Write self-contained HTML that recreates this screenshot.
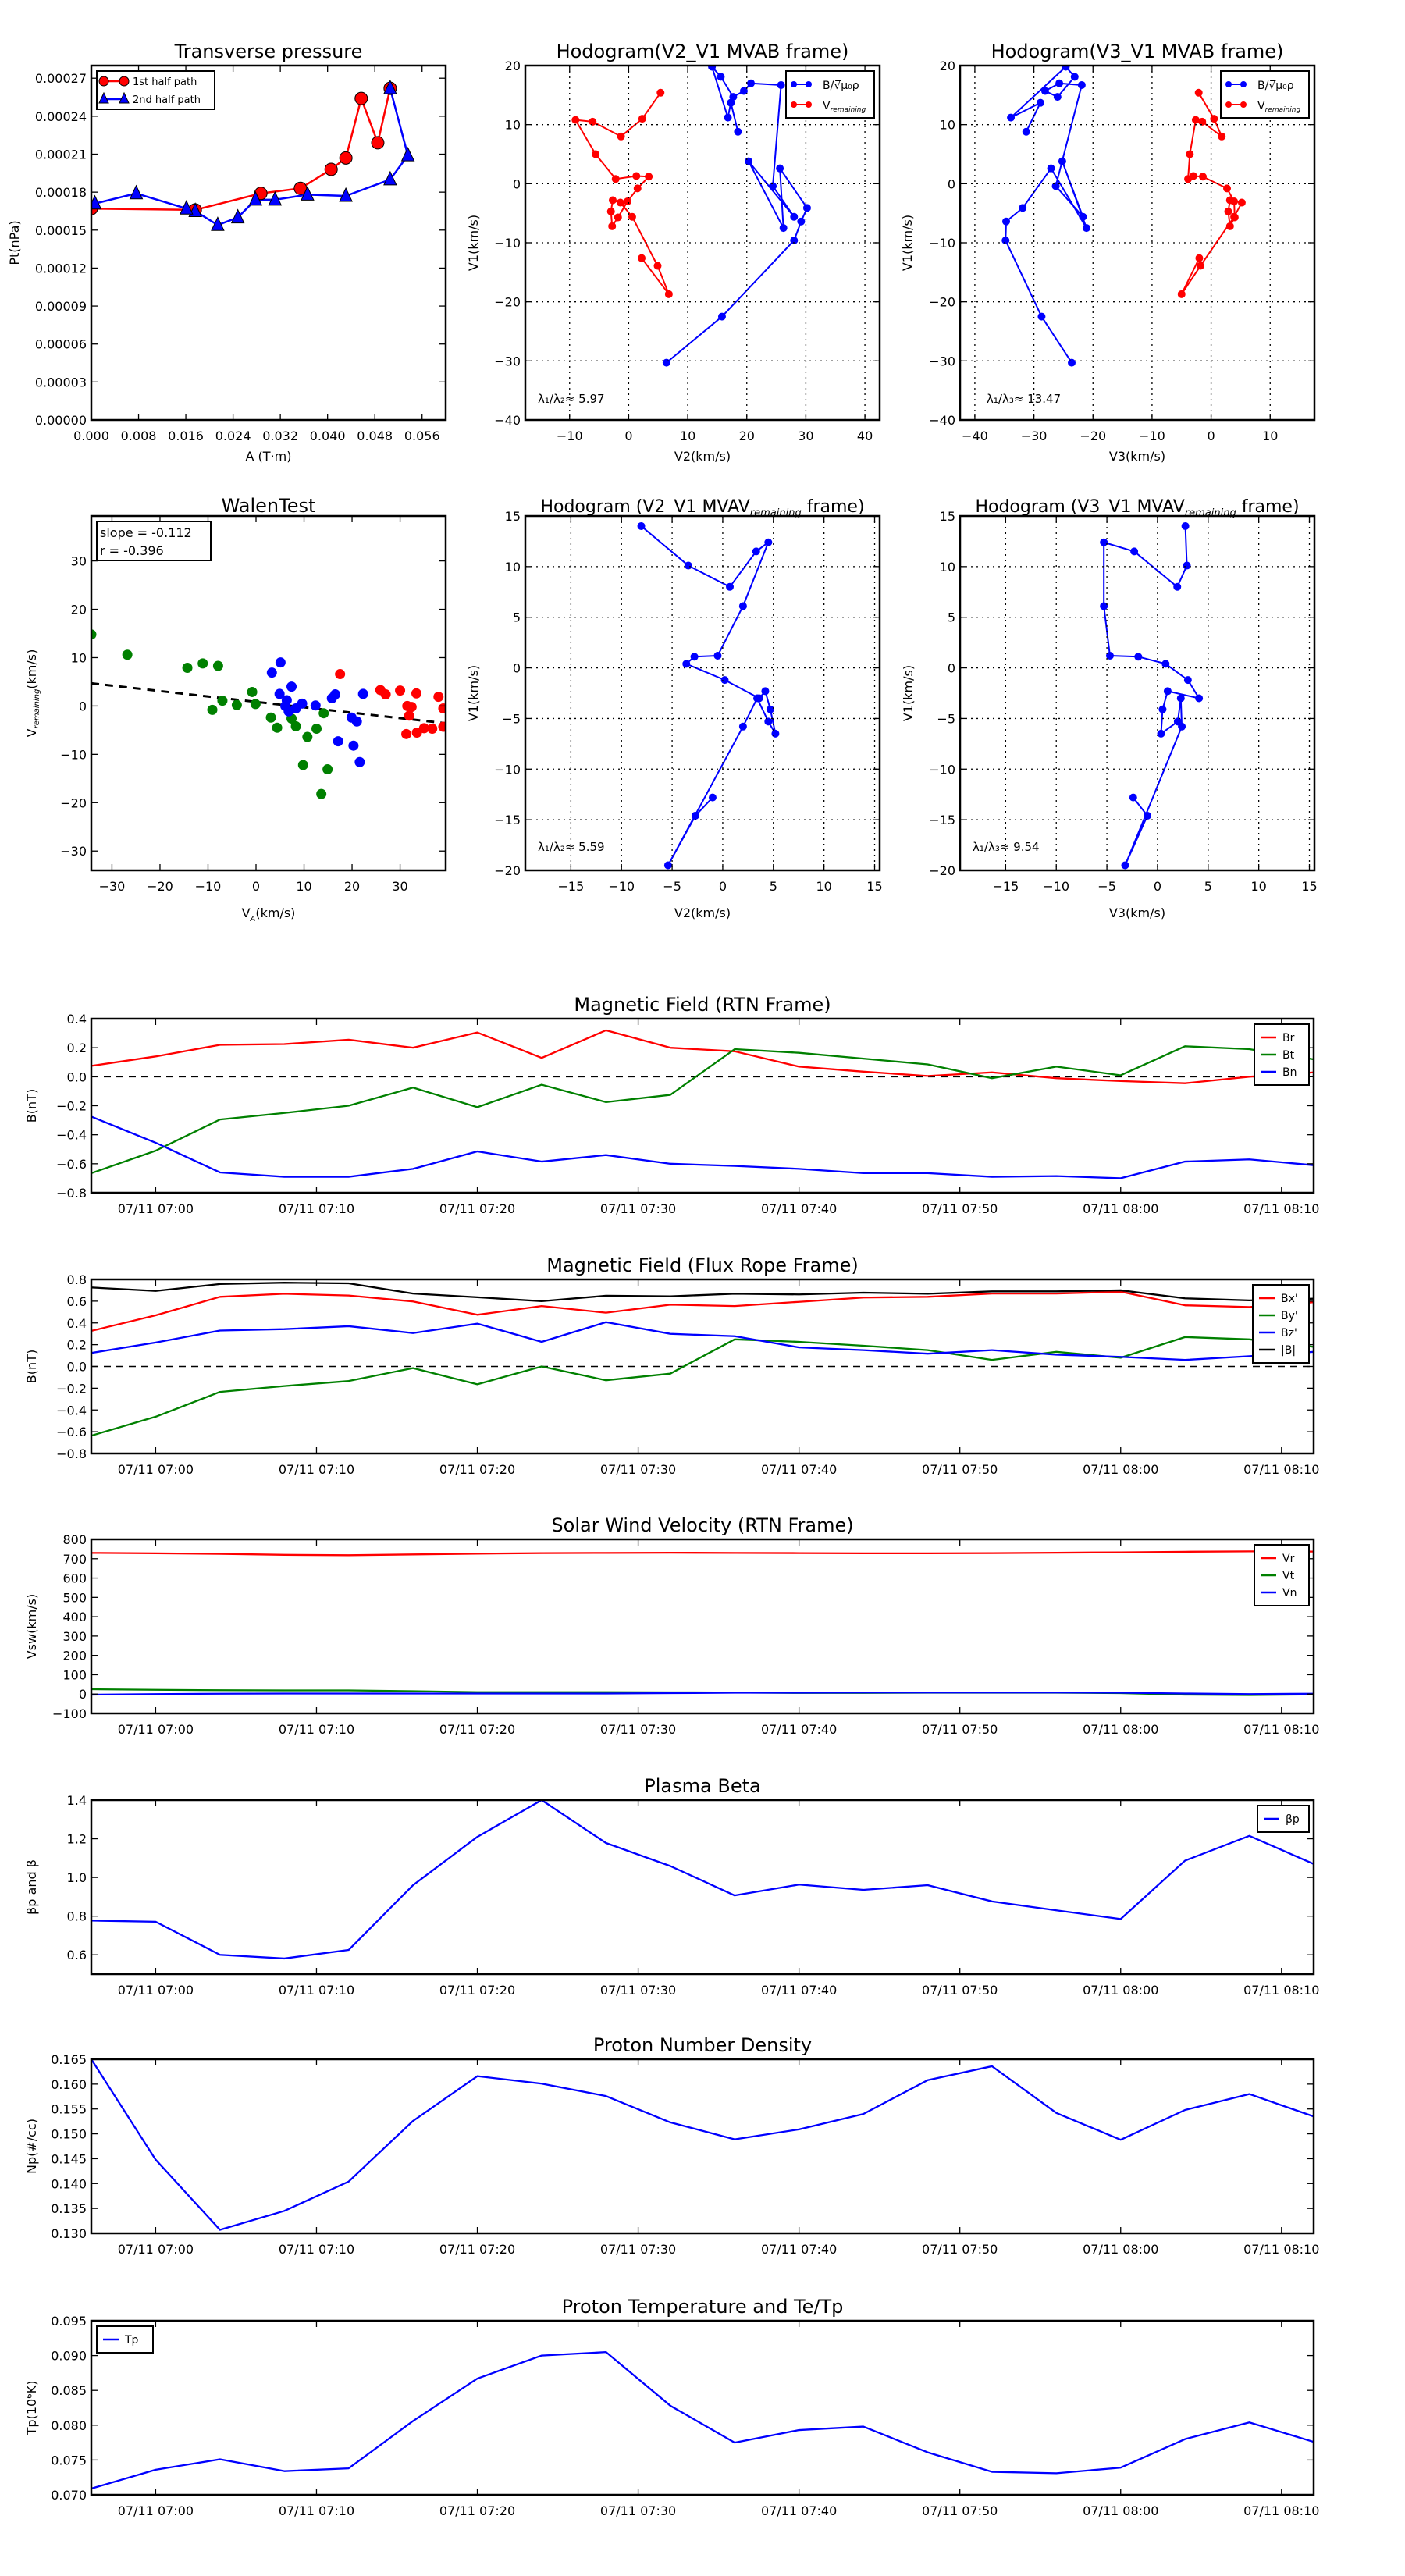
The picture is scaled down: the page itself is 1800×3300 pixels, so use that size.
<!DOCTYPE html>
<html><head><meta charset="utf-8"><title>Flux rope analysis</title>
<style>
html,body{margin:0;padding:0;background:#fff;}
svg{display:block;font-family:"DejaVu Sans","Liberation Sans",sans-serif;}
</style></head>
<body>
<svg id="fig" xmlns="http://www.w3.org/2000/svg" width="1800" height="3300" viewBox="0 0 1800 3300"></svg>
<script>
// ---------- data ----------
const timeLabels = ["06:56","07:00","07:04","07:08","07:12","07:16","07:20","07:24","07:28","07:32","07:36","07:40","07:44","07:48","07:52","07:56","08:00","08:04","08:08","08:12"];
const timeTicks = ["07:00","07:10","07:20","07:30","07:40","07:50","08:00","08:10"];
const br = [0.075,0.14,0.22,0.225,0.255,0.2,0.305,0.13,0.32,0.2,0.175,0.07,0.035,0.005,0.03,-0.01,-0.03,-0.045,0.0,0.03];
const bt = [-0.665,-0.51,-0.295,-0.25,-0.2,-0.075,-0.21,-0.055,-0.175,-0.125,0.19,0.165,0.125,0.085,-0.01,0.07,0.01,0.21,0.19,0.12];
const bn = [-0.275,-0.455,-0.66,-0.69,-0.69,-0.635,-0.515,-0.585,-0.54,-0.6,-0.615,-0.635,-0.665,-0.665,-0.69,-0.685,-0.7,-0.585,-0.57,-0.61];
const bxp = [0.327,0.47,0.64,0.668,0.652,0.597,0.475,0.555,0.494,0.568,0.555,0.594,0.633,0.64,0.67,0.67,0.687,0.562,0.546,0.59];
const byp = [-0.636,-0.462,-0.234,-0.18,-0.134,-0.015,-0.164,0.0,-0.127,-0.066,0.249,0.226,0.19,0.15,0.06,0.134,0.08,0.27,0.249,0.18];
const bzp = [0.124,0.22,0.33,0.343,0.37,0.307,0.394,0.226,0.407,0.3,0.278,0.175,0.15,0.117,0.15,0.108,0.088,0.06,0.094,0.134];
const btot = [0.726,0.694,0.758,0.77,0.764,0.67,0.636,0.6,0.65,0.645,0.668,0.662,0.678,0.668,0.69,0.69,0.7,0.626,0.607,0.623];
const vr = [730,728,725,720,718,722,726,729,730,731,730,729,728,728,729,731,733,736,738,737];
const vt = [25,22,20,19,19,15,10,10,10,9,8,6,6,7,7,7,5,-3,-5,-2];
const vn = [-3,0,2,3,3,3,3,3,3,5,7,7,8,8,8,8,7,3,0,2];
const betaP = [0.777,0.771,0.6,0.581,0.625,0.96,1.21,1.4,1.178,1.059,0.907,0.963,0.936,0.96,0.876,0.83,0.785,1.087,1.215,1.07];
const np = [0.165,0.1448,0.1307,0.1345,0.1404,0.1526,0.1616,0.1601,0.1576,0.1523,0.1489,0.1509,0.154,0.1608,0.1636,0.1542,0.1488,0.1548,0.158,0.1535];
const tp = [0.0709,0.0736,0.0751,0.0734,0.0738,0.0806,0.0867,0.09,0.0905,0.0828,0.0775,0.0793,0.0798,0.0761,0.0733,0.0731,0.0739,0.078,0.0804,0.0776];

const aRed = [0,0.0176,0.0287,0.0354,0.0406,0.0431,0.0457,0.0485,0.0506];
const ptRed = [0.000167,0.000166,0.000179,0.000183,0.000198,0.000207,0.000254,0.000219,0.000262];
const aBlue = [0.0506,0.0536,0.0506,0.0431,0.0366,0.0311,0.0278,0.0248,0.0214,0.0176,0.0161,0.0076,0.0006];
const ptBlue = [0.000262,0.000209,0.00019,0.000177,0.000178,0.000174,0.000174,0.00016,0.000154,0.000165,0.000167,0.000179,0.000171];

const hB1 = [8.8,13.7,11.2,19.8,18.1,14.7,15.7,17.0,16.7,-0.4,-5.6,3.8,-7.5,2.6,-4.1,-6.4,-9.6,-22.5,-30.3];
const hB2 = [18.5,17.3,16.8,14.1,15.6,17.7,19.5,20.7,25.8,24.4,28.0,20.3,26.2,25.6,30.2,29.2,28.0,15.8,6.4];
const hB3 = [-31.3,-28.9,-33.9,-24.6,-23.1,-26,-28.1,-25.7,-21.9,-26.3,-21.7,-25.2,-21.1,-27.1,-31.9,-34.7,-34.8,-28.7,-23.6];
const hV1 = [15.4,11.0,8.0,10.5,10.8,5.0,0.8,1.3,1.2,-0.8,-3.0,-5.7,-7.2,-4.7,-2.8,-3.2,-5.6,-13.9,-18.7,-12.6];
const hV2 = [5.4,2.3,-1.3,-6.1,-9.0,-5.6,-2.2,1.3,3.4,1.5,-0.2,-1.8,-2.8,-3.0,-2.7,-1.4,0.6,4.9,6.8,2.2];
const hV3 = [-2.1,0.5,1.8,-1.5,-2.6,-3.6,-3.9,-3.0,-1.4,2.7,3.9,4.0,3.2,2.9,3.2,5.2,3.9,-1.8,-5.0,-2.0];

const rV1 = [14.0,10.1,8.0,11.5,12.4,6.1,1.2,1.1,0.4,-1.2,-3.0,-2.3,-4.1,-6.5,-5.3,-3.0,-5.8,-19.5,-14.6,-12.8];
const rV2 = [-8.05,-3.4,0.7,3.3,4.5,2.0,-0.5,-2.8,-3.6,0.2,3.6,4.2,4.7,5.2,4.5,3.4,2.0,-5.4,-2.7,-1.0];
const rV3 = [2.75,2.9,1.95,-2.3,-5.3,-5.3,-4.7,-1.9,0.8,3.0,4.1,1.0,0.5,0.35,2.0,2.3,2.4,-3.2,-1.0,-2.4];

const walGx = [-34.3,-26.8,-14.3,-11.1,-7.9,-7.0,-9.1,-4.0,-0.8,-0.1,3.1,4.4,7.4,8.3,10.7,12.6,14.1,9.8,14.9,13.6];
const walGy = [14.8,10.6,7.9,8.8,8.3,1.1,-0.8,0.2,2.9,0.4,-2.4,-4.5,-2.6,-4.2,-6.4,-4.7,-1.5,-12.2,-13.1,-18.2];
const walBx = [3.3,5.1,4.9,6.4,7.4,6.1,6.8,8.3,9.6,12.4,15.8,16.5,22.3,19.9,21.0,17.1,20.3,21.6];
const walBy = [6.9,9.0,2.5,1.2,4.0,0,-1.1,-0.5,0.5,0.1,1.6,2.4,2.5,-2.4,-3.2,-7.3,-8.2,-11.6];
const walRx = [17.5,25.9,27,30,33.4,31.5,32.4,31.9,31.3,33.5,35,36.7,38,39,39];
const walRy = [6.6,3.3,2.4,3.2,2.6,0,-0.2,-2.0,-5.8,-5.5,-4.6,-4.7,1.9,-0.5,-4.3];
const walenSlope = -0.112, walenIntercept = 0.85;

// ---------- helpers ----------
const NS = "http://www.w3.org/2000/svg";
const svg = document.getElementById('fig');
function mk(tag, attrs, name, parent) {
  const el = document.createElementNS(NS, tag);
  for (const k in attrs) el.setAttribute(k, attrs[k]);
  
  
  (parent || svg).appendChild(el);
  return el;
}
function txt(x, y, s, size, anchor, name, parent, extra) {
  const a = {x: x, y: y, 'font-size': size, 'text-anchor': anchor || 'middle', fill: '#000'};
  if (extra) for (const k in extra) a[k] = extra[k];
  const t = mk('text', a, name, parent);
  t.textContent = s;
  return t;
}
function minus(s) { return s.replace('-', '\u2212'); }
function tmin(s) { const p = s.split(':'); return (+p[0]) * 60 + (+p[1]) - (6 * 60 + 56); }

function axes(name, x0, y0, w, h, xd, yd) {
  const g = mk('g', {}, name);
  const sx = v => x0 + (v - xd[0]) / (xd[1] - xd[0]) * w;
  const sy = v => y0 + h - (v - yd[0]) / (yd[1] - yd[0]) * h;
  const clipId = 'c' + name;
  const cp = mk('clipPath', {id: clipId}, name + '-clip', g);
  mk('rect', {x: x0, y: y0, width: w, height: h}, name + '-clip-rect', cp);
  const plot = mk('g', {'clip-path': 'url(#' + clipId + ')'}, name + '-plot', g);
  return {g, plot, sx, sy, x0, y0, w, h};
}
function frame(ax) {
  mk('rect', {x: ax.x0, y: ax.y0, width: ax.w, height: ax.h, fill: 'none', stroke: '#000', 'stroke-width': 2.5}, 'axes-frame', ax.g);
}
function xticks(ax, vals, labels, grid, nm) {
  vals.forEach((v, i) => {
    const x = ax.sx(v);
    if (grid) mk('line', {x1: x, y1: ax.y0, x2: x, y2: ax.y0 + ax.h, stroke: '#000', 'stroke-width': 1.3, 'stroke-dasharray': '2,5'}, nm + '-x-grid', ax.g);
    mk('line', {x1: x, y1: ax.y0 + ax.h, x2: x, y2: ax.y0 + ax.h - 8, stroke: '#000', 'stroke-width': 1.3}, nm + '-x-tick', ax.g);
    mk('line', {x1: x, y1: ax.y0, x2: x, y2: ax.y0 + 8, stroke: '#000', 'stroke-width': 1.3}, nm + '-x-tick-top', ax.g);
    txt(x, ax.y0 + ax.h + 26, labels[i], 16, 'middle', nm + '-x-tick-label', ax.g);
  });
}
function yticks(ax, vals, labels, grid, nm) {
  vals.forEach((v, i) => {
    const y = ax.sy(v);
    if (grid) mk('line', {x1: ax.x0, y1: y, x2: ax.x0 + ax.w, y2: y, stroke: '#000', 'stroke-width': 1.3, 'stroke-dasharray': '2,5'}, nm + '-y-grid', ax.g);
    mk('line', {x1: ax.x0, y1: y, x2: ax.x0 + 8, y2: y, stroke: '#000', 'stroke-width': 1.3}, nm + '-y-tick', ax.g);
    mk('line', {x1: ax.x0 + ax.w, y1: y, x2: ax.x0 + ax.w - 8, y2: y, stroke: '#000', 'stroke-width': 1.3}, nm + '-y-tick-right', ax.g);
    txt(ax.x0 - 6, y + 6, labels[i], 16, 'end', nm + '-y-tick-label', ax.g);
  });
}
function range(a, b, s) { const r = []; for (let v = a; v <= b + s * 1e-6; v += s) r.push(Math.round(v / s) * s); return r; }
function poly(ax, xs, ys, color, nm, width, dash) {
  const pts = xs.map((x, i) => ax.sx(x).toFixed(2) + ',' + ax.sy(ys[i]).toFixed(2)).join(' ');
  const a = {points: pts, fill: 'none', stroke: color, 'stroke-width': width || 2.2, 'stroke-linejoin': 'round'};
  if (dash) a['stroke-dasharray'] = dash;
  return mk('polyline', a, nm, ax.plot);
}
function dots(ax, xs, ys, color, r, nm) {
  xs.forEach((x, i) => {
    mk('circle', {cx: ax.sx(x), cy: ax.sy(ys[i]), r: r, fill: color, stroke: color, 'stroke-width': 1}, nm, ax.plot);
  });
}
function ylabel(x, y, s, nm, size) {
  const t = txt(x, y, s, size || 16, 'middle', nm, svg, {transform: 'rotate(-90 ' + x + ' ' + y + ')'});
  return t;
}

// ---------- Row 1 ----------
const COLW = 454;
const colX = [117, 673, 1230];
const R1T = 84, R2T = 661;

// Transverse pressure
(function () {
  const ax = axes('transverse-pressure', colX[0], R1T, COLW, COLW, [0, 0.06], [0, 0.00028]);
  xticks(ax, range(0, 0.056, 0.008), range(0, 0.056, 0.008).map(v => v.toFixed(3)), false, 'tp');
  yticks(ax, range(0, 0.00027, 0.00003), range(0, 0.00027, 0.00003).map(v => v.toFixed(5)), false, 'tp');
  poly(ax, aRed, ptRed, '#f00', 'first-half-path-line', 2.5);
  poly(ax, aBlue, ptBlue, '#00f', 'second-half-path-line', 2.5);
  aRed.forEach((a, i) => {
    mk('circle', {cx: ax.sx(a), cy: ax.sy(ptRed[i]), r: 8, fill: '#f00', stroke: '#000', 'stroke-width': 1}, 'first-half-point', ax.plot);
  });
  aBlue.forEach((a, i) => {
    const x = ax.sx(a), y = ax.sy(ptBlue[i]);
    mk('polygon', {points: `${x},${y - 10} ${x - 8},${y + 7} ${x + 8},${y + 7}`, fill: '#00f', stroke: '#000', 'stroke-width': 1}, 'second-half-point', ax.plot);
  });
  frame(ax);
  const lg = mk('g', {}, 'tp-legend', ax.g);
  mk('rect', {x: 124, y: 91, width: 151, height: 49, fill: '#fff', stroke: '#000', 'stroke-width': 2}, 'tp-legend-box', lg);
  mk('line', {x1: 131, y1: 104, x2: 161, y2: 104, stroke: '#f00', 'stroke-width': 2.5}, 'tp-legend-red-line', lg);
  mk('circle', {cx: 133, cy: 104, r: 6, fill: '#f00', stroke: '#000'}, 'tp-legend-red-marker', lg);
  mk('circle', {cx: 159, cy: 104, r: 6, fill: '#f00', stroke: '#000'}, 'tp-legend-red-marker', lg);
  txt(170, 109, '1st half path', 13, 'start', 'tp-legend-label-1', lg);
  mk('line', {x1: 131, y1: 127, x2: 161, y2: 127, stroke: '#00f', 'stroke-width': 2.5}, 'tp-legend-blue-line', lg);
  mk('polygon', {points: '133,119 127,132 139,132', fill: '#00f', stroke: '#000'}, 'tp-legend-blue-marker', lg);
  mk('polygon', {points: '159,119 153,132 165,132', fill: '#00f', stroke: '#000'}, 'tp-legend-blue-marker', lg);
  txt(170, 132, '2nd half path', 13, 'start', 'tp-legend-label-2', lg);
  txt(colX[0] + COLW / 2, 74, 'Transverse pressure', 24, 'middle', 'tp-title');
  txt(colX[0] + COLW / 2, 590, 'A (T\u00b7m)', 16, 'middle', 'tp-x-axis-title');
  ylabel(24, R1T + COLW / 2, 'Pt(nPa)', 'tp-y-axis-title');
})();

function hodoLegend(ax, lx, ly, nm) {
  const lg = mk('g', {}, nm, ax.g);
  mk('rect', {x: lx, y: ly, width: 113, height: 60, fill: '#fff', stroke: '#000', 'stroke-width': 2}, nm + '-box', lg);
  mk('line', {x1: lx + 8, y1: ly + 17, x2: lx + 31, y2: ly + 17, stroke: '#00f', 'stroke-width': 2}, nm + '-b-line', lg);
  mk('circle', {cx: lx + 10, cy: ly + 17, r: 4, fill: '#00f'}, nm + '-b-marker', lg);
  mk('circle', {cx: lx + 29, cy: ly + 17, r: 4, fill: '#00f'}, nm + '-b-marker', lg);
  txt(lx + 47, ly + 23, 'B/\u221a\u0305\u03bc\u2080\u03c1', 14, 'start', nm + '-b-label', lg);
  mk('line', {x1: lx + 8, y1: ly + 43, x2: lx + 31, y2: ly + 43, stroke: '#f00', 'stroke-width': 2}, nm + '-v-line', lg);
  mk('circle', {cx: lx + 10, cy: ly + 43, r: 4, fill: '#f00'}, nm + '-v-marker', lg);
  mk('circle', {cx: lx + 29, cy: ly + 43, r: 4, fill: '#f00'}, nm + '-v-marker', lg);
  const t = txt(lx + 47, ly + 49, 'V', 14, 'start', nm + '-v-label', lg);
  const s = document.createElementNS(NS, 'tspan');
  
  
  s.setAttribute('font-size', '9'); s.setAttribute('font-style', 'italic'); s.setAttribute('dy', '3');
  s.textContent = 'remaining'; t.appendChild(s);
}
function subText(x, y, main, sub, size, nm, after) {
  const t = txt(x, y, main, size, 'middle', nm);
  const s = document.createElementNS(NS, 'tspan');
  
  
  s.setAttribute('font-size', Math.round(size * 0.6)); s.setAttribute('font-style', 'italic'); s.setAttribute('dy', '5');
  s.textContent = sub; t.appendChild(s);
  if (after) {
    const a = document.createElementNS(NS, 'tspan');
    
    
    a.setAttribute('dy', '-5');
    a.textContent = after; t.appendChild(a);
  }
  return t;
}

// Hodogram V2_V1 MVAB
(function () {
  const ax = axes('hodogram-v2-v1-mvab', colX[1], R1T, COLW, COLW, [-17.5, 42.5], [-40, 20]);
  xticks(ax, range(-10, 40, 10), range(-10, 40, 10).map(v => minus(String(v))), true, 'h1');
  yticks(ax, range(-40, 20, 10), range(-40, 20, 10).map(v => minus(String(v))), true, 'h1');
  poly(ax, hB2, hB1, '#00f', 'h1-b-line', 2);
  dots(ax, hB2, hB1, '#00f', 4.5, 'h1-b-point');
  poly(ax, hV2, hV1, '#f00', 'h1-v-line', 2);
  dots(ax, hV2, hV1, '#f00', 4.5, 'h1-v-point');
  frame(ax);
  hodoLegend(ax, 1007, 91, 'h1-legend');
  txt(689, 516, '\u03bb\u2081/\u03bb\u2082\u2248 5.97', 15, 'start', 'h1-eigen-ratio', ax.g);
  txt(colX[1] + COLW / 2, 74, 'Hodogram(V2_V1 MVAB frame)', 24, 'middle', 'h1-title');
  txt(colX[1] + COLW / 2, 590, 'V2(km/s)', 16, 'middle', 'h1-x-axis-title');
  ylabel(612, R1T + COLW / 2, 'V1(km/s)', 'h1-y-axis-title');
})();

// Hodogram V3_V1 MVAB
(function () {
  const ax = axes('hodogram-v3-v1-mvab', colX[2], R1T, COLW, COLW, [-42.5, 17.5], [-40, 20]);
  xticks(ax, range(-40, 10, 10), range(-40, 10, 10).map(v => minus(String(v))), true, 'h2');
  yticks(ax, range(-40, 20, 10), range(-40, 20, 10).map(v => minus(String(v))), true, 'h2');
  poly(ax, hB3, hB1, '#00f', 'h2-b-line', 2);
  dots(ax, hB3, hB1, '#00f', 4.5, 'h2-b-point');
  poly(ax, hV3, hV1, '#f00', 'h2-v-line', 2);
  dots(ax, hV3, hV1, '#f00', 4.5, 'h2-v-point');
  frame(ax);
  hodoLegend(ax, 1564, 91, 'h2-legend');
  txt(1264, 516, '\u03bb\u2081/\u03bb\u2083\u2248 13.47', 15, 'start', 'h2-eigen-ratio', ax.g);
  txt(colX[2] + COLW / 2, 74, 'Hodogram(V3_V1 MVAB frame)', 24, 'middle', 'h2-title');
  txt(colX[2] + COLW / 2, 590, 'V3(km/s)', 16, 'middle', 'h2-x-axis-title');
  ylabel(1168, R1T + COLW / 2, 'V1(km/s)', 'h2-y-axis-title');
})();

// ---------- Row 2 ----------
(function () {
  const ax = axes('walen-test', colX[0], R2T, COLW, COLW, [-34.3, 39.5], [-34, 39.3]);
  xticks(ax, range(-30, 30, 10), range(-30, 30, 10).map(v => minus(String(v))), false, 'wal');
  yticks(ax, range(-30, 30, 10), range(-30, 30, 10).map(v => minus(String(v))), false, 'wal');
  const lx = [-34.3, 39.5];
  poly(ax, lx, lx.map(x => walenIntercept + walenSlope * x), '#000', 'walen-fit-line', 3, '10,8');
  dots(ax, walGx, walGy, '#008000', 6, 'walen-green-point');
  dots(ax, walBx, walBy, '#00f', 6, 'walen-blue-point');
  dots(ax, walRx, walRy, '#f00', 6, 'walen-red-point');
  frame(ax);
  mk('rect', {x: 124, y: 668, width: 146, height: 50, fill: '#fff', stroke: '#000', 'stroke-width': 2}, 'walen-stats-box', ax.g);
  txt(128, 688, 'slope = -0.112', 16, 'start', 'walen-slope-text', ax.g);
  txt(128, 711, 'r = -0.396', 16, 'start', 'walen-r-text', ax.g, {'font-style': 'normal'});
  txt(colX[0] + COLW / 2, 656, 'WalenTest', 24, 'middle', 'walen-title');
  subText(colX[0] + COLW / 2, 1175, 'V', 'A', 16, 'walen-x-axis-title', '(km/s)');
  const t = ylabel(46, R2T + COLW / 2, 'V', 'walen-y-axis-title');
  const s = document.createElementNS(NS, 'tspan');
  
  
  s.setAttribute('font-size', '10'); s.setAttribute('font-style', 'italic'); s.setAttribute('dy', '4');
  s.textContent = 'remaining'; t.appendChild(s);
  const s2 = document.createElementNS(NS, 'tspan');
  
  
  s2.setAttribute('dy', '-4');
  s2.textContent = '(km/s)'; t.appendChild(s2);
})();

function mvavPanel(nm, col, xs, ys, xlab, ratio, title) {
  const ax = axes(nm, colX[col], R2T, COLW, COLW, [-19.5, 15.5], [-20, 15]);
  xticks(ax, range(-15, 15, 5), range(-15, 15, 5).map(v => minus(String(v))), true, nm);
  yticks(ax, range(-20, 15, 5), range(-20, 15, 5).map(v => minus(String(v))), true, nm);
  poly(ax, xs, ys, '#00f', nm + '-line', 2);
  dots(ax, xs, ys, '#00f', 4.5, nm + '-point');
  frame(ax);
  txt(colX[col] + 16, 1090, ratio, 15, 'start', nm + '-eigen-ratio', ax.g);
  subText(colX[col] + COLW / 2, 656, title[0], 'remaining', 22, nm + '-title', ' frame)');
  txt(colX[col] + COLW / 2, 1175, xlab, 16, 'middle', nm + '-x-axis-title');
  ylabel(colX[col] - 61, R2T + COLW / 2, 'V1(km/s)', nm + '-y-axis-title');
}
mvavPanel('hodogram-v2-v1-mvav', 1, rV2, rV1, 'V2(km/s)', '\u03bb\u2081/\u03bb\u2082\u2248 5.59', ['Hodogram (V2_V1 MVAV']);
mvavPanel('hodogram-v3-v1-mvav', 2, rV3, rV1, 'V3(km/s)', '\u03bb\u2081/\u03bb\u2083\u2248 9.54', ['Hodogram (V3_V1 MVAV']);

// ---------- Time series ----------
const TX = 117, TW = 1566, TH = 223;
const tops = [1305, 1639, 1972, 2306, 2638, 2973];
const tvals = timeLabels.map(tmin);
function timePanel(nm, idx, yd, yt, ylabs, title, ylab, series, zero, legend) {
  const ax = axes(nm, TX, tops[idx], TW, TH, [0, 76], yd);
  xticks(ax, timeTicks.map(tmin), timeTicks.map(s => '07/11 ' + s), false, nm);
  yticks(ax, yt, ylabs, false, nm);
  if (zero) poly(ax, [0, 76], [0, 0], '#000', nm + '-zero-line', 1.5, '9,7');
  series.forEach(s => poly(ax, tvals, s.v, s.c, nm + '-' + s.n + '-line', 2.3));
  frame(ax);
  txt(TX + TW / 2, tops[idx] - 10, title, 24, 'middle', nm + '-title');
  ylabel(46, tops[idx] + TH / 2, ylab, nm + '-y-axis-title');
  if (legend) {
    const lg = mk('g', {}, nm + '-legend', ax.g);
    const h = 12 + series.length * 22;
    mk('rect', {x: legend[0], y: legend[1], width: legend[2], height: h, fill: '#fff', stroke: '#000', 'stroke-width': 2}, nm + '-legend-box', lg);
    series.forEach((s, i) => {
      const y = legend[1] + 17 + i * 22;
      mk('line', {x1: legend[0] + 8, y1: y, x2: legend[0] + 28, y2: y, stroke: s.c, 'stroke-width': 2.5}, nm + '-legend-swatch', lg);
      txt(legend[0] + 36, y + 5, s.label, 14, 'start', nm + '-legend-label', lg);
    });
  }
  return ax;
}
const fmt1 = v => minus(v.toFixed(1));
timePanel('mag-rtn', 0, [-0.8, 0.4], range(-0.8, 0.4, 0.2), range(-0.8, 0.4, 0.2).map(fmt1),
  'Magnetic Field (RTN Frame)', 'B(nT)',
  [{n: 'br', v: br, c: '#f00', label: 'Br'}, {n: 'bt', v: bt, c: '#008000', label: 'Bt'}, {n: 'bn', v: bn, c: '#00f', label: 'Bn'}], true, [1607, 1312, 70]);
timePanel('mag-fluxrope', 1, [-0.8, 0.8], range(-0.8, 0.8, 0.2), range(-0.8, 0.8, 0.2).map(fmt1),
  'Magnetic Field (Flux Rope Frame)', 'B(nT)',
  [{n: 'bx', v: bxp, c: '#f00', label: "Bx'"}, {n: 'by', v: byp, c: '#008000', label: "By'"}, {n: 'bz', v: bzp, c: '#00f', label: "Bz'"}, {n: 'btot', v: btot, c: '#000', label: '|B|'}], true, [1605, 1646, 72]);
timePanel('solar-wind', 2, [-100, 800], range(-100, 800, 100), range(-100, 800, 100).map(v => minus(String(v))),
  'Solar Wind Velocity (RTN Frame)', 'Vsw(km/s)',
  [{n: 'vr', v: vr, c: '#f00', label: 'Vr'}, {n: 'vt', v: vt, c: '#008000', label: 'Vt'}, {n: 'vn', v: vn, c: '#00f', label: 'Vn'}], false, [1607, 1979, 70]);
timePanel('plasma-beta', 3, [0.5, 1.4], range(0.6, 1.4, 0.2), range(0.6, 1.4, 0.2).map(fmt1),
  'Plasma Beta', '\u03b2p and \u03b2',
  [{n: 'betap', v: betaP, c: '#00f', label: '\u03b2p'}], false, [1611, 2313, 66]);
timePanel('proton-density', 4, [0.13, 0.165], range(0.13, 0.165, 0.005), range(0.13, 0.165, 0.005).map(v => v.toFixed(3)),
  'Proton Number Density', 'Np(#/cc)',
  [{n: 'np', v: np, c: '#00f', label: 'Np'}], false, null);
timePanel('proton-temperature', 5, [0.07, 0.095], range(0.07, 0.095, 0.005), range(0.07, 0.095, 0.005).map(v => v.toFixed(3)),
  'Proton Temperature and Te/Tp', 'Tp(10\u2076K)',
  [{n: 'tp', v: tp, c: '#00f', label: 'Tp'}], false, [124, 2980, 72]);
</script>
</body></html>
